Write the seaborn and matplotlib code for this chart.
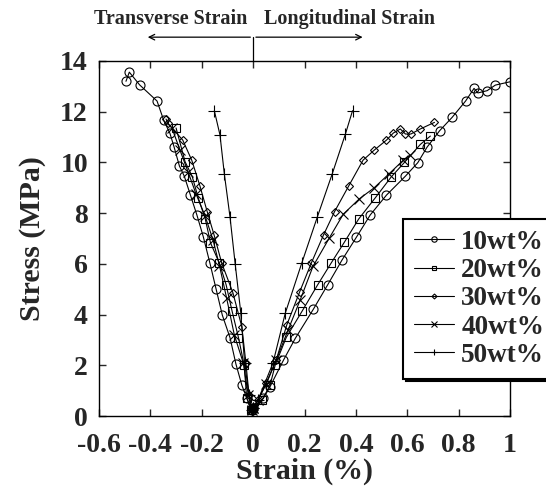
import numpy as np
import pandas as pd
import matplotlib
matplotlib.use("Agg")
import matplotlib.pyplot as plt
import seaborn as sns

# ---------------- data ----------------
series_names = ["10wt%", "20wt%", "30wt%", "40wt%", "50wt%"]
series_markers = ["o", "s", "D", "x", "+"]

# 10 wt%
t10_strain = [-0.495, -0.482, -0.442, -0.374, -0.348, -0.324, -0.308, -0.287, -0.268, -0.244, -0.219,
              -0.194, -0.168, -0.144, -0.120, -0.090, -0.067, -0.044, -0.025, -0.004, 0.0]
t10_stress = [13.2, 13.56, 13.06, 12.42, 11.66, 11.15, 10.62, 9.86, 9.46, 8.71, 7.93,
              7.07, 6.02, 5.00, 3.98, 3.09, 2.05, 1.22, 0.71, 0.24, 0.3]
l10_strain = [0.0, 0.040, 0.066, 0.118, 0.164, 0.235, 0.290, 0.346, 0.402, 0.456, 0.519, 0.593,
              0.641, 0.677, 0.726, 0.775, 0.827, 0.86, 0.875, 0.911, 0.943, 1.0]
l10_stress = [0.3, 0.70, 1.16, 2.20, 3.06, 4.22, 5.17, 6.15, 7.05, 7.93, 8.71, 9.46,
              9.99, 10.60, 11.25, 11.78, 12.42, 12.92, 12.74, 12.83, 13.05, 13.18]

# 20 wt%
t20_strain = [-0.300, -0.265, -0.237, -0.213, -0.186, -0.166, -0.131, -0.105, -0.082, -0.057, -0.035,
              -0.025, -0.008, 0.0]
t20_stress = [11.36, 10.03, 9.44, 8.58, 7.76, 6.83, 6.02, 5.17, 4.14, 3.09, 2.01,
              0.71, 0.24, 0.3]
l20_strain = [0.0, 0.035, 0.066, 0.086, 0.129, 0.191, 0.251, 0.303, 0.355, 0.411, 0.476, 0.537,
              0.589, 0.651, 0.690]
l20_stress = [0.3, 0.63, 1.22, 2.01, 3.10, 4.14, 5.17, 6.02, 6.85, 7.77, 8.61, 9.42,
              10.0, 10.71, 11.04]

# 30 wt%
t30_strain = [-0.339, -0.332, -0.274, -0.239, -0.207, -0.178, -0.152, -0.122, -0.079, -0.044, -0.028,
              -0.016, -0.004, 0.0]
t30_stress = [11.71, 11.55, 10.88, 10.09, 9.07, 8.03, 7.14, 6.02, 4.87, 3.52, 2.08,
              0.83, 0.24, 0.3]
l30_strain = [0.0, 0.019, 0.051, 0.090, 0.131, 0.181, 0.226, 0.274, 0.317, 0.372, 0.428, 0.472,
              0.519, 0.546, 0.573, 0.593, 0.614, 0.651, 0.706]
l30_stress = [0.3, 0.63, 1.30, 2.21, 3.59, 4.89, 6.02, 7.14, 8.06, 9.07, 10.09, 10.49,
              10.88, 11.16, 11.32, 11.12, 11.12, 11.32, 11.58]

# 40 wt%
t40_strain = [-0.316, -0.285, -0.253, -0.222, -0.187, -0.156, -0.131, -0.103, -0.073, -0.038,
              -0.019, -0.004, 0.0]
t40_stress = [11.36, 10.49, 9.62, 8.75, 7.89, 6.94, 5.93, 4.64, 3.19, 2.08,
              0.83, 0.24, 0.3]
l40_strain = [0.0, 0.019, 0.051, 0.090, 0.136, 0.183, 0.233, 0.296, 0.351, 0.413, 0.470, 0.529,
              0.585, 0.612]
l40_stress = [0.3, 0.63, 1.26, 2.21, 3.39, 4.57, 5.90, 7.01, 7.96, 8.56, 8.99, 9.55,
              10.09, 10.29]

# 50 wt%
t50_strain = [-0.151, -0.129, -0.112, -0.090, -0.070, -0.048, -0.033, -0.016, -0.004, 0.0]
t50_stress = [12.04, 11.08, 9.54, 7.85, 6.01, 4.07, 2.08, 0.83, 0.24, 0.3]
l50_strain = [0.0, 0.019, 0.077, 0.125, 0.189, 0.250, 0.308, 0.359, 0.387]
l50_stress = [0.3, 0.63, 2.08, 4.05, 6.02, 7.85, 9.55, 11.11, 12.04]

x_ticks = [-0.6, -0.4, -0.2, 0, 0.2, 0.4, 0.6, 0.8, 1]
x_tick_labels = ["-0.6", "-0.4", "-0.2", "0", "0.2", "0.4", "0.6", "0.8", "1"]
y_ticks = [0, 2, 4, 6, 8, 10, 12, 14]

branches = {
    "10wt%": [(t10_strain, t10_stress), (l10_strain, l10_stress)],
    "20wt%": [(t20_strain, t20_stress), (l20_strain, l20_stress)],
    "30wt%": [(t30_strain, t30_stress), (l30_strain, l30_stress)],
    "40wt%": [(t40_strain, t40_stress), (l40_strain, l40_stress)],
    "50wt%": [(t50_strain, t50_stress), (l50_strain, l50_stress)],
}

# ---------------- style ----------------
sns.set_style("ticks")
plt.rcParams["font.family"] = ["Liberation Serif", "DejaVu Serif"]
plt.rcParams["font.weight"] = "bold"
plt.rcParams["axes.labelweight"] = "bold"

fig = plt.figure(figsize=(5.46, 4.86), dpi=100)
ax = fig.add_axes([99 / 546, 1 - 416 / 486, (510 - 99) / 546, (416 - 61) / 486])

msizes = {"o": 6.5, "s": 6.0, "D": 4.2, "x": 6.5, "+": 8.0}

for name, mk in zip(series_names, series_markers):
    for i, (xs, ys) in enumerate(branches[name]):
        df = pd.DataFrame({"strain": xs, "stress": ys})
        sns.lineplot(data=df, x="strain", y="stress", sort=False, ax=ax,
                     color="black", linewidth=0.8, marker=mk,
                     markersize=msizes[mk], markerfacecolor="none",
                     markeredgecolor="black", markeredgewidth=0.8,
                     label=name if i == 0 else None, legend=False, clip_on=True)

ax.set_xlim(-0.6, 1.0)
ax.set_ylim(0, 14)
ax.set_xticks(x_ticks)
ax.set_xticklabels(x_tick_labels)
ax.set_yticks(y_ticks)
ax.tick_params(direction="in", top=True, right=True, length=5, width=1,
               labelsize=20)
ax.tick_params(axis="x", pad=12)
ax.tick_params(axis="y", pad=8)
for lab in ax.get_xticklabels() + ax.get_yticklabels():
    lab.set_fontweight("bold")
for s in ax.spines.values():
    s.set_linewidth(1.0)
    s.set_color("black")

ax.set_xlabel("Strain (%)", fontsize=21.5, fontweight="bold", labelpad=0)
ax.set_ylabel("Stress (MPa)", fontsize=21.5, fontweight="bold", labelpad=10)

# top annotation: direction of strain
ytop = 14.94
ax.plot([0, 0], [14, ytop], color="black", lw=0.9, clip_on=False)
ax.annotate("", xy=(-0.421, ytop), xytext=(0, ytop),
            arrowprops=dict(arrowstyle="->", color="black", lw=0.9), annotation_clip=False)
ax.annotate("", xy=(0.437, ytop), xytext=(0, ytop),
            arrowprops=dict(arrowstyle="->", color="black", lw=0.9), annotation_clip=False)
ax.text(-0.322, 15.65, "Transverse Strain", ha="center", va="center",
        fontsize=14.5, fontweight="bold", clip_on=False)
ax.text(0.374, 15.65, "Longitudinal Strain", ha="center", va="center",
        fontsize=14.5, fontweight="bold", clip_on=False)

handles, labels = ax.get_legend_handles_labels()
leg = ax.legend(handles, labels, loc="upper left",
                bbox_to_anchor=(403 / 546, 1 - 219 / 486), bbox_transform=fig.transFigure,
                borderaxespad=0, fontsize=19.5, markerscale=0.6, handlelength=1.5,
                handletextpad=0.25, labelspacing=0.12, borderpad=0.4,
                fancybox=False, framealpha=1, edgecolor="black",
                shadow={"color": "black", "alpha": 1})
leg.get_frame().set_linewidth(1.5)
for t in leg.get_texts():
    t.set_fontweight("bold")

fig.savefig("out.png", dpi=100)
